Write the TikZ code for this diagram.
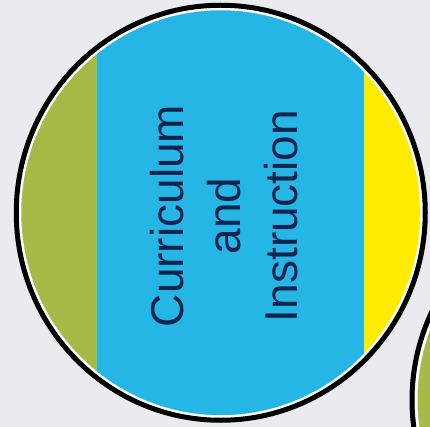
\documentclass[tikz,border=0pt]{standalone}
\usepackage{fontspec}
\setmainfont{Liberation Sans}
\usetikzlibrary{positioning}
\definecolor{paper}{RGB}{233,235,239}
\definecolor{ciblue}{RGB}{38,182,229}
\definecolor{olive}{RGB}{166,186,72}
\definecolor{lemon}{RGB}{255,236,0}
\definecolor{navy}{RGB}{14,36,78}

\begin{document}
\begin{tikzpicture}[x=1pt,y=-1pt,
  ring/.style={draw=black,line width=5pt},
  whitegap/.style={draw=white,line width=3pt},
  title/.style={font=\fontsize{46}{57}\selectfont,text=navy,align=center,rotate=90,inner sep=0pt}
]
\useasboundingbox (0,0) rectangle (430,427);
\fill[paper] (0,0) rectangle (430,427);
\coordinate (main) at (220.75,212.75);
\coordinate (next) at (618,400);
% neighbour circle, bottom right
\fill[olive] (next) circle (206);
\draw[whitegap] (next) circle (202);
\draw[ring] (next) circle (206);
% the three strips
\begin{scope}
  \clip (main) ellipse [x radius=204.5, y radius=207.5];
  \fill[olive] (0,0) rectangle (97,427);
  \fill[ciblue] (97,0) rectangle (364,427);
  \fill[lemon] (364,0) rectangle (430,427);
\end{scope}
\draw[whitegap] (main) ellipse [x radius=201, y radius=204];
\draw[ring] (main) ellipse [x radius=204.5, y radius=207.5];
\node[title] (topic) at (224,216) {Curriculum\\and\\Instruction};
\end{tikzpicture}
\end{document}
